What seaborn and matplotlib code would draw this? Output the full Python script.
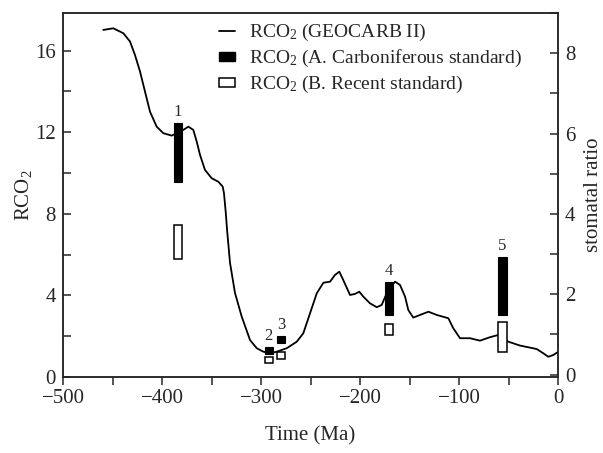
import matplotlib
matplotlib.use("Agg")
from matplotlib import pyplot as plt
from matplotlib.lines import Line2D
from matplotlib.patches import Patch
from matplotlib.ticker import MultipleLocator
import seaborn as sns
import pandas as pd

# GEOCARB II curve
time = [-459.3, -449.2, -439.1, -432.3, -427.3, -422.2, -417.2, -412.1, -405.4, -398.7,
        -390.2, -378.5, -373.4, -368.4, -364.9, -361.6, -356.6, -349.8, -343.1, -338.7,
        -337.4, -335.5, -334.3, -331.3, -326.3, -319.5, -311.1, -304.3, -297.7, -290.9,
        -284.1, -274.0, -263.9, -257.3, -250.5, -243.7, -237.0, -230.3, -225.3, -220.9,
        -216.9, -210.1, -205.1, -200.7, -196.7, -189.9, -183.1, -178.1, -171.7, -164.6,
        -159.6, -154.5, -151.2, -146.2, -139.4, -130.9, -122.5, -110.8, -105.8, -99.0,
        -88.9, -78.8, -68.7, -60.3, -50.2, -38.4, -21.5, -14.8, -9.8, -4.7, 0.0]
rco2 = [17.01, 17.09, 16.85, 16.44, 15.78, 14.97, 13.99, 13.0, 12.27, 11.95,
        11.83, 12.11, 12.27, 12.11, 11.53, 10.88, 10.15, 9.74, 9.57, 9.33,
        9.0, 8.0, 7.21, 5.59, 4.12, 2.96, 1.81, 1.41, 1.24, 1.16,
        1.24, 1.41, 1.73, 2.14, 3.12, 4.10, 4.62, 4.67, 5.0, 5.16,
        4.75, 4.02, 4.07, 4.18, 3.94, 3.61, 3.42, 3.53, 4.26, 4.67,
        4.51, 3.94, 3.28, 2.91, 3.04, 3.20, 3.04, 2.88, 2.39, 1.90,
        1.90, 1.78, 1.95, 2.06, 1.73, 1.54, 1.37, 1.16, 0.99, 1.08, 1.23]

# stomatal estimates
site = ["1", "2", "3", "4", "5"]
age = [-383.8, -292.1, -279.6, -170.9, -56.1]
carb_lo = [9.54, 1.12, 1.65, 3.04, 3.04]
carb_hi = [12.44, 1.45, 2.01, 4.67, 5.90]
rec_lo = [5.77, 0.67, 0.88, 2.06, 1.21]
rec_hi = [7.45, 1.0, 1.24, 2.60, 2.68]

sns.set_style("ticks")
plt.rcParams["font.family"] = ["Liberation Serif", "DejaVu Serif"]
plt.rcParams["mathtext.fontset"] = "custom"
plt.rcParams["mathtext.rm"] = "Liberation Serif"
plt.rcParams["mathtext.it"] = "Liberation Serif:italic"
plt.rcParams["axes.linewidth"] = 1.1

fig = plt.figure(figsize=(6.03, 4.53), dpi=100)
ax = fig.add_axes([0.1045, 0.1678, 0.8209, 0.8035])

df = pd.DataFrame({"Time": time, "RCO2": rco2})
sns.lineplot(data=df, x="Time", y="RCO2", color="black", lw=1.3, ax=ax)

w = 8.5
hb = [h - l for h, l in zip(carb_hi, carb_lo)]
ho = [h - l for h, l in zip(rec_hi, rec_lo)]
ax.bar(age, hb, bottom=carb_lo, width=w, color="black", edgecolor="black", lw=0.8, zorder=3)
ax.bar(age, ho, bottom=rec_lo, width=w, color="white", edgecolor="black", lw=1.1, zorder=3)
for s, a, top in zip(site, age, carb_hi):
    ax.text(a, top + 0.15, s, ha="center", va="bottom", fontsize=12)

ymax = 17.84
ax.set_xlim(-500, 0)
ax.set_ylim(0, ymax)
ax.xaxis.set_major_locator(MultipleLocator(100))
ax.xaxis.set_minor_locator(MultipleLocator(50))
ax.yaxis.set_major_locator(MultipleLocator(4))
ax.yaxis.set_minor_locator(MultipleLocator(2))
ax.tick_params(axis="x", which="both", direction="out", length=6, width=1.1, labelsize=15, pad=3)
ax.tick_params(axis="y", which="both", direction="in", length=6, width=1.1, labelsize=15, pad=5)
ax.set_xlabel("Time (Ma)", fontsize=15, labelpad=13)
ax.set_ylabel("RCO$_2$", fontsize=15, labelpad=1)

ax2 = ax.twinx()
ax2.set_ylim(-0.06, 9.0)
ax2.yaxis.set_major_locator(MultipleLocator(2))
ax2.yaxis.set_minor_locator(MultipleLocator(1))
ax2.tick_params(axis="y", which="both", direction="in", length=6, width=1.1, labelsize=15, pad=5)
ax2.set_ylabel("stomatal ratio", fontsize=15, labelpad=6)
for sp in ax2.spines.values():
    sp.set_linewidth(1.1)

handles = [Line2D([], [], color="black", lw=1.3),
           Patch(facecolor="black", edgecolor="black"),
           Patch(facecolor="white", edgecolor="black", lw=1.1)]
texts = ["RCO$_2$ (GEOCARB II)", "RCO$_2$ (A. Carboniferous standard)", "RCO$_2$ (B. Recent standard)"]
ax.legend(handles, texts, loc="upper left", bbox_to_anchor=(0.315, 0.975), frameon=False,
          fontsize=14, handlelength=0.85, handleheight=0.35, handletextpad=0.7,
          labelspacing=0.25, borderaxespad=0, borderpad=0)

fig.savefig("out.png", dpi=100)
